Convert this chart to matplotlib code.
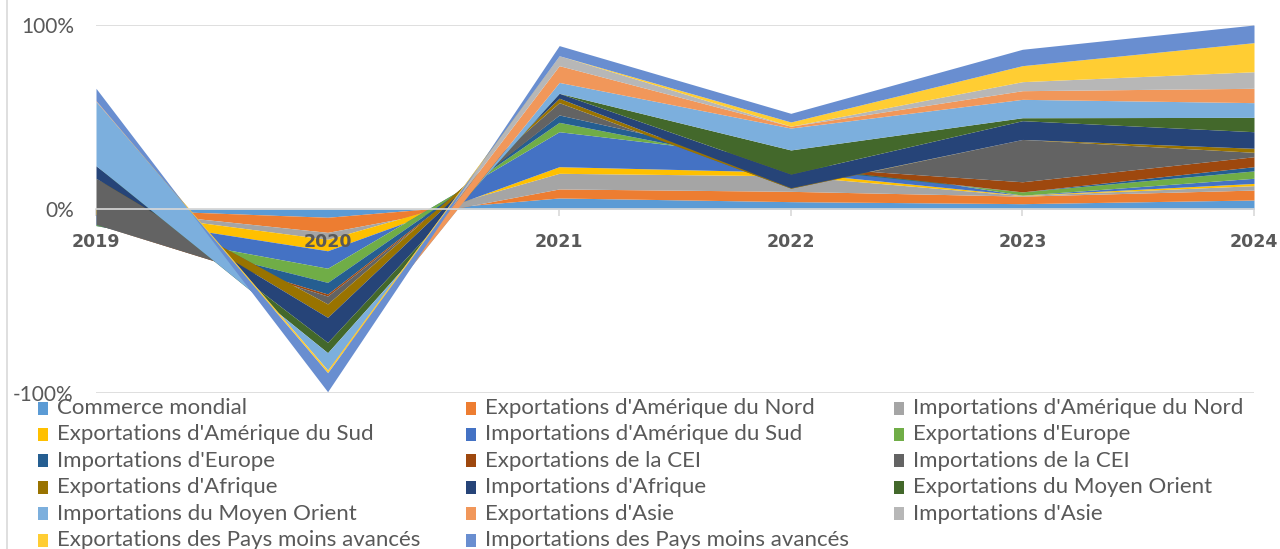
import numpy as np
import matplotlib
matplotlib.use("Agg")
import matplotlib.pyplot as plt
import matplotlib.transforms as mtransforms
from matplotlib.patches import Rectangle
from matplotlib.lines import Line2D

plt.rcParams['font.family'] = ['Lato', 'DejaVu Sans']

# Données (en %), une valeur par année
annees = ['2019', '2020', '2021', '2022', '2023', '2024']

commerce_mondial = [0.2, -4.5, 6.0, 4.0, 2.9, 4.9]
exp_amerique_nord = [0.3, -8.2, 4.9, 5.6, 4.1, 5.4]
imp_amerique_nord = [-0.5, -3.8, 8.5, 8.4, 0.3, 2.4]
exp_amerique_sud = [-3.0, -6.2, 3.6, 2.0, 0.2, 1.2]
imp_amerique_sud = [-6.0, -9.5, 19.0, 7.1, 0.0, 2.8]
exp_europe = [0.7, -7.7, 5.1, -4.6, 1.8, 4.0]
imp_europe = [0.0, -6.3, 4.0, 0.8, 0.0, 2.3]
exp_cei = [0.0, -1.1, 0.0, 0.0, 5.5, 5.4]
imp_cei = [25.0, -4.3, 6.7, -12.0, 23.0, 2.4]
exp_afrique = [0.0, -7.3, 2.4, 0.3, 0.0, 2.2]
imp_afrique = [6.8, -13.6, 2.7, 7.4, 10.2, 9.0]
exp_moyen_orient = [0.0, -5.6, 0.0, 13.1, 1.6, 7.8]
imp_moyen_orient = [35.0, -9.4, 5.9, 11.9, 10.0, 8.0]
exp_asie = [0.4, 0.0, 9.1, 1.0, 4.7, 7.8]
imp_asie = [0.0, 0.0, 5.4, 0.0, 4.9, 9.0]
exp_pma = [0.0, -1.5, 0.0, 2.3, 8.7, 15.8]
imp_pma = [6.7, -10.3, 5.5, 4.7, 8.9, 9.6]

noms = ["Commerce mondial", "Exportations d'Amérique du Nord", "Importations d'Amérique du Nord",
        "Exportations d'Amérique du Sud", "Importations d'Amérique du Sud", "Exportations d'Europe",
        "Importations d'Europe", "Exportations de la CEI", "Importations de la CEI",
        "Exportations d'Afrique", "Importations d'Afrique", "Exportations du Moyen Orient",
        "Importations du Moyen Orient", "Exportations d'Asie", "Importations d'Asie",
        "Exportations des Pays moins avancés", "Importations des Pays moins avancés"]

valeurs = [commerce_mondial, exp_amerique_nord, imp_amerique_nord, exp_amerique_sud,
           imp_amerique_sud, exp_europe, imp_europe, exp_cei, imp_cei, exp_afrique,
           imp_afrique, exp_moyen_orient, imp_moyen_orient, exp_asie, imp_asie,
           exp_pma, imp_pma]

couleurs = ['#5B9BD5', '#ED7D31', '#A5A5A5', '#FFC000', '#4472C4', '#70AD47',
            '#255E91', '#9E480E', '#636363', '#997300', '#264478', '#43682B',
            '#7CAFDD', '#F1975A', '#B7B7B7', '#FFCD33', '#698ED0']

gris_texte = '#595959'
gris_ligne = '#D9D9D9'

W, H = 1280, 549
fig = plt.figure(figsize=(W / 100, H / 100), dpi=100)
ax = fig.add_axes([96 / W, 1 - 393 / H, (1254 - 96) / W, (393 - 25) / H])

x = np.arange(len(annees))
cumul = np.cumsum(np.array(valeurs), axis=0)
bas = np.zeros(len(annees))

# Aires empilées (façon Excel : cumul simple, positif et négatif)
for haut, couleur in zip(cumul, couleurs):
    ax.fill_between(x, bas, haut, color=couleur, linewidth=0, zorder=1)
    bas = haut

ax.set_xlim(0, len(annees) - 1)
ax.set_ylim(-100, 100)

ax.set_yticks([-100, 0, 100])
ax.set_yticklabels(['-100%', '0%', '100%'])
ax.yaxis.grid(True, color=gris_ligne, linewidth=1.2)
ax.set_axisbelow(True)
ax.tick_params(axis='y', length=0, pad=16, labelsize=15, labelcolor=gris_texte)

# Axe des catégories à 0, étiquettes en gras sous l'axe
ax.set_xticks(x)
ax.set_xticklabels([])
ax.tick_params(axis='x', direction='out', length=5, color=gris_ligne, width=1.2)
decale = mtransforms.offset_copy(ax.transData, fig=fig, x=0, y=-24, units='dots')
for xi, annee in zip(x, annees):
    ax.text(xi, 0, annee, transform=decale, ha='center', va='top',
            fontsize=12.5, fontweight='bold', color=gris_texte,
            family=['DejaVu Sans'], clip_on=False)

for cote in ['top', 'right', 'left']:
    ax.spines[cote].set_visible(False)
ax.spines['bottom'].set_position(('data', 0))
ax.spines['bottom'].set_color(gris_ligne)
ax.spines['bottom'].set_linewidth(1.2)
ax.spines['bottom'].set_zorder(3)

# Bordure gauche de la zone du graphique
fig.add_artist(Line2D([7 / W, 7 / W], [0, 1], color=gris_ligne, linewidth=1.2))

# Légende (3 colonnes, remplie ligne par ligne)
col_x = [57, 485, 913]
ligne_y0, pas_y = 408, 26.4
for i, (nom, couleur) in enumerate(zip(noms, couleurs)):
    ligne, col = divmod(i, 3)
    yc = ligne_y0 + ligne * pas_y
    xt = col_x[col]
    fig.add_artist(Rectangle(((xt - 19) / W, 1 - (yc + 6.5) / H), 10 / W, 13 / H,
                             facecolor=couleur, edgecolor='none'))
    fig.text(xt / W, 1 - yc / H, nom, fontsize=16, color=gris_texte,
             ha='left', va='center')

fig.savefig('out.png', dpi=100)
